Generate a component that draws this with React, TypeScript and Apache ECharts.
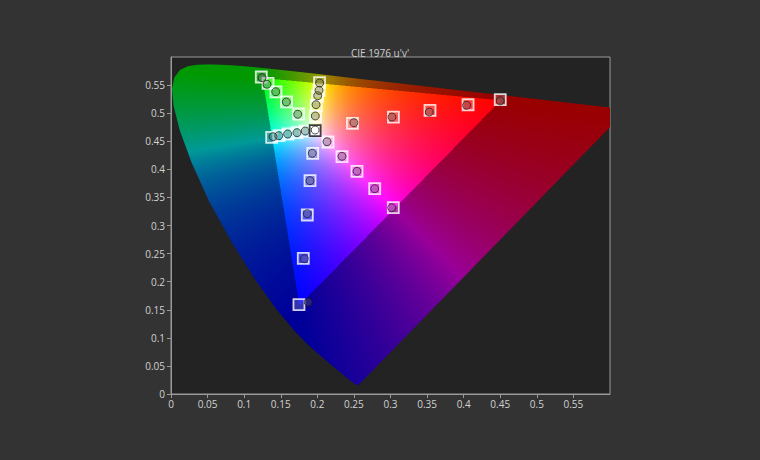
import React, { useEffect, useRef } from "react";
import * as echarts from "echarts";

// Axis settings (CIE 1976 u'v')
const axisMin = 0;
const axisMax = 0.6;
const axisStep = 0.05;
const chartTitle = "CIE 1976 u'v'";

// Spectral locus (380 nm .. 700 nm) in u', v'
const locusU = [
  0.2568, 0.2557, 0.2522, 0.2461, 0.2347, 0.2161, 0.1877, 0.169, 0.1441, 0.1147, 0.0828, 0.0521,
  0.0282, 0.0119, 0.0035, 0.0014, 0.0046, 0.0123, 0.0231, 0.036, 0.0501, 0.0643, 0.0792, 0.0953,
  0.1127, 0.1319, 0.1531, 0.1766, 0.2026, 0.2312, 0.2623, 0.296, 0.3315, 0.3681, 0.4035, 0.4692,
  0.5203, 0.5565, 0.583, 0.6005, 0.6109, 0.6199, 0.6234,
];
const locusV = [
  0.0166, 0.0159, 0.0169, 0.0226, 0.035, 0.0549, 0.0871, 0.1119, 0.151, 0.2044, 0.2708, 0.3427,
  0.4117, 0.4698, 0.5131, 0.5432, 0.5638, 0.577, 0.5837, 0.5861, 0.5868, 0.5865, 0.5856, 0.5841,
  0.5821, 0.5796, 0.5766, 0.5732, 0.5694, 0.5651, 0.5604, 0.5554, 0.5501, 0.5446, 0.5393, 0.5296,
  0.5219, 0.5165, 0.5125, 0.5099, 0.5084, 0.507, 0.5065,
];

// Targets (squares) and measurements (circles), 20% .. 100% saturation
const whiteTarget: number[] = [0.197, 0.469];
const whiteMeasured: number[] = [0.197, 0.47];

const redTarget = [[0.248, 0.482], [0.304, 0.493], [0.354, 0.505], [0.406, 0.515], [0.45, 0.524]];
const redMeasured = [[0.25, 0.483], [0.302, 0.493], [0.353, 0.502], [0.404, 0.514], [0.45, 0.522]];

const greenTarget = [[0.1745, 0.4985], [0.158, 0.52], [0.1435, 0.538], [0.1326, 0.553], [0.1234, 0.5644]];
const greenMeasured = [[0.1732, 0.498], [0.1576, 0.5199], [0.1431, 0.5382], [0.1312, 0.5514], [0.1244, 0.5631]];

const blueTarget = [[0.1937, 0.4285], [0.19, 0.3798], [0.1863, 0.3187], [0.1808, 0.2416], [0.1749, 0.159]];
const blueMeasured = [[0.1931, 0.4285], [0.19, 0.3798], [0.1863, 0.321], [0.1822, 0.2409], [0.1875, 0.1636]];

const cyanTarget = [[0.1835, 0.4682], [0.1722, 0.4652], [0.1599, 0.4629], [0.1476, 0.4599], [0.1376, 0.457]];
const cyanMeasured = [[0.1835, 0.4682], [0.1722, 0.4652], [0.1595, 0.4629], [0.1472, 0.4599], [0.1395, 0.4581]];

const magentaTarget = [[0.2146, 0.4487], [0.2337, 0.4225], [0.2542, 0.3965], [0.2784, 0.3655], [0.3038, 0.3317]];
const magentaMeasured = [[0.2132, 0.4492], [0.2337, 0.4232], [0.2542, 0.3965], [0.2784, 0.3655], [0.3016, 0.3317]];

const yellowTarget = [[0.1975, 0.4941], [0.1986, 0.5136], [0.2002, 0.5306], [0.2023, 0.5403], [0.203, 0.5542]];
const yellowMeasured = [[0.1972, 0.495], [0.1982, 0.5151], [0.2005, 0.5311], [0.2023, 0.5407], [0.2032, 0.5537]];

function uvToRgb(u: number, v: number): [number, number, number] {
  const d = 6 * u - 16 * v + 12;
  const x = (9 * u) / d;
  const y = (4 * v) / d;
  if (y <= 1e-6) return [0, 0, 0];
  const X = x / y;
  const Y = 1;
  const Z = (1 - x - y) / y;
  let r = 3.2406 * X - 1.5372 * Y - 0.4986 * Z;
  let g = -0.9689 * X + 1.8758 * Y + 0.0415 * Z;
  let b = 0.0557 * X - 0.204 * Y + 1.057 * Z;
  const out = r < 0 || g < 0 || b < 0;
  r = Math.max(0, r);
  g = Math.max(0, g);
  b = Math.max(0, b);
  const m = Math.max(r, g, b, 1e-9);
  const k = (out ? 0.6 : 1) * 255;
  return [(r / m) * k, (g / m) * k, (b / m) * k];
}

function buildGamutImage(w: number, h: number): string {
  const canvas = document.createElement("canvas");
  canvas.width = w;
  canvas.height = h;
  const ctx = canvas.getContext("2d");
  if (!ctx) return "";
  const img = ctx.createImageData(w, h);
  const span = axisMax - axisMin;
  for (let j = 0; j < h; j++) {
    const v = axisMax - (span * (j + 0.5)) / h;
    for (let i = 0; i < w; i++) {
      const u = axisMin + (span * (i + 0.5)) / w;
      const [r, g, b] = uvToRgb(u, v);
      const p = (j * w + i) * 4;
      img.data[p] = r;
      img.data[p + 1] = g;
      img.data[p + 2] = b;
      img.data[p + 3] = 255;
    }
  }
  ctx.putImageData(img, 0, 0);
  ctx.globalCompositeOperation = "destination-in";
  ctx.beginPath();
  for (let k = 0; k < locusU.length; k++) {
    const px = ((locusU[k] - axisMin) / span) * w;
    const py = ((axisMax - locusV[k]) / span) * h;
    if (k === 0) ctx.moveTo(px, py);
    else ctx.lineTo(px, py);
  }
  ctx.closePath();
  ctx.fillStyle = "#000";
  ctx.fill();
  return canvas.toDataURL();
}

const frameColor = "#9a9a9a";
const labelColor = "#d2d2d2";

function fmt(v: number): string {
  return String(parseFloat(v.toFixed(2)));
}

export default function App() {
  const ref = useRef<HTMLDivElement>(null);
  useEffect(() => {
    if (!ref.current) return;
    const chart = echarts.init(ref.current, undefined, { renderer: "svg" });
    const gamutUrl = buildGamutImage(878, 674);

    const targets = [
      ...redTarget, ...greenTarget, ...blueTarget, ...cyanTarget, ...magentaTarget, ...yellowTarget,
    ].map((p) => ({ value: p }));
    targets.push({
      value: whiteTarget,
      itemStyle: { color: "#ffffff", borderColor: "#111111", borderWidth: 1.8 },
    } as any);
    const measured = [
      ...redMeasured, ...greenMeasured, ...blueMeasured, ...cyanMeasured, ...magentaMeasured, ...yellowMeasured,
    ].map((p) => ({ value: p }));
    measured.push({
      value: whiteMeasured,
      itemStyle: { color: "#ffffff", borderColor: "#222222", borderWidth: 1 },
    } as any);

    const axisCommon = {
      type: "value" as const,
      min: axisMin,
      max: axisMax,
      interval: axisStep,
      axisLine: { show: true, lineStyle: { color: frameColor, width: 1 } },
      axisTick: { show: true, length: 4, lineStyle: { color: frameColor } },
      splitLine: { show: false },
    };

    chart.setOption({
      animation: false,
      backgroundColor: "#333333",
      title: {
        text: chartTitle,
        left: "center",
        top: 43,
        textStyle: { color: "#cfcfcf", fontSize: 10, fontWeight: "normal", fontFamily: "Open Sans" },
      },
      grid: {
        left: 171,
        right: 150,
        top: 57,
        bottom: 66,
        show: true,
        backgroundColor: "#232323",
        borderColor: frameColor,
        borderWidth: 1,
      },
      xAxis: {
        ...axisCommon,
        axisLabel: {
          color: labelColor,
          fontSize: 10,
          fontFamily: "Open Sans",
          margin: 5,
          showMaxLabel: false,
          formatter: fmt,
        },
      },
      yAxis: {
        ...axisCommon,
        axisLabel: {
          color: labelColor,
          fontSize: 10,
          fontFamily: "Open Sans",
          margin: 6,
          showMaxLabel: false,
          formatter: fmt,
        },
      },
      series: [
        {
          type: "custom",
          coordinateSystem: "cartesian2d",
          silent: true,
          z: 1,
          data: [[axisMin, axisMin]],
          renderItem: (_params: any, api: any) => {
            const p0 = api.coord([axisMin, axisMax]);
            const p1 = api.coord([axisMax, axisMin]);
            return {
              type: "image",
              style: { image: gamutUrl, x: p0[0], y: p0[1], width: p1[0] - p0[0], height: p1[1] - p0[1] },
            };
          },
        },
        {
          type: "scatter",
          name: "Target",
          z: 3,
          symbol: "rect",
          symbolSize: 11,
          itemStyle: { color: "rgba(255,255,255,0.25)", borderColor: "#ffffff", borderWidth: 1.8 },
          data: targets,
        },
        {
          type: "scatter",
          name: "Measured",
          z: 4,
          symbol: "circle",
          symbolSize: 8,
          itemStyle: { color: "rgba(95,95,95,0.45)", borderColor: "rgba(25,25,25,0.9)", borderWidth: 1 },
          data: measured,
        },
      ],
    });
    return () => chart.dispose();
  }, []);
  return (
    <div
      ref={ref}
      style={{ position: "fixed", left: 0, top: 0, width: 760, height: 460, background: "#333333" }}
    />
  );
}
